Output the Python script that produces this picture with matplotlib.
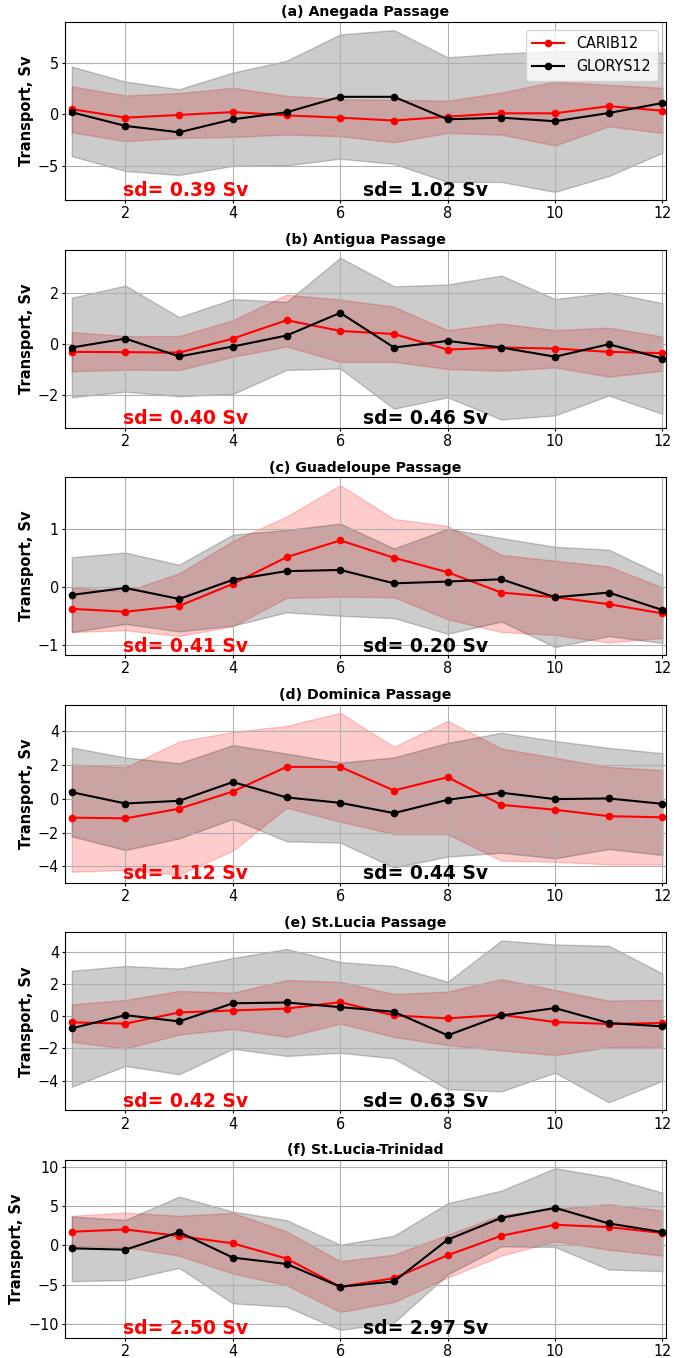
import matplotlib.pyplot as plt

# Monthly transport through the Lesser Antilles passages, CARIB12 vs GLORYS12

months = list(range(1, 13))

titles = ["(a) Anegada Passage", "(b) Antigua Passage", "(c) Guadeloupe Passage",
          "(d) Dominica Passage", "(e) St.Lucia Passage", "(f) St.Lucia-Trinidad"]

sd_carib = ["0.39", "0.40", "0.41", "1.12", "0.42", "2.50"]
sd_glorys = ["1.02", "0.46", "0.20", "0.44", "0.63", "2.97"]

yticks = [[-5, 0, 5], [-2, 0, 2], [-1, 0, 1], [-4, -2, 0, 2, 4], [-4, -2, 0, 2, 4], [-10, -5, 0, 5, 10]]
xticks = [2, 4, 6, 8, 10, 12]

# (a) Anegada
anegada_carib = [0.51, -0.32, -0.06, 0.22, -0.10, -0.32, -0.60, -0.22, 0.10, 0.10, 0.80, 0.35]
anegada_carib_hi = [2.70, 1.83, 2.06, 2.57, 1.80, 1.48, 1.41, 1.32, 2.12, 3.18, 2.86, 2.57]
anegada_carib_lo = [-1.74, -2.60, -2.28, -2.19, -1.96, -2.12, -2.70, -1.80, -1.96, -3.02, -1.16, -1.80]
anegada_glorys = [0.20, -1.12, -1.74, -0.48, 0.20, 1.70, 1.70, -0.48, -0.32, -0.67, 0.13, 1.10]
anegada_glorys_hi = [4.63, 3.18, 2.44, 4.05, 5.20, 7.75, 8.17, 5.53, 5.90, 6.14, 6.08, 5.98]
anegada_glorys_lo = [-4.05, -5.50, -5.88, -5.00, -4.95, -4.30, -4.80, -6.56, -6.56, -7.52, -5.98, -3.73]

# (b) Antigua
antigua_carib = [-0.30, -0.31, -0.33, 0.22, 0.94, 0.52, 0.40, -0.21, -0.13, -0.17, -0.30, -0.35]
antigua_carib_hi = [0.48, 0.32, 0.32, 0.94, 1.94, 1.75, 1.47, 0.55, 0.81, 0.55, 0.65, 0.30]
antigua_carib_lo = [-1.06, -1.00, -1.01, -0.49, -0.09, -0.69, -0.69, -0.97, -1.04, -0.91, -1.27, -1.04]
antigua_glorys = [-0.13, 0.22, -0.48, -0.09, 0.34, 1.23, -0.13, 0.13, -0.13, -0.49, 0.00, -0.56]
antigua_glorys_hi = [1.82, 2.30, 1.06, 1.77, 1.66, 3.39, 2.27, 2.34, 2.69, 1.77, 2.03, 1.61]
antigua_glorys_lo = [-2.08, -1.86, -2.04, -1.95, -1.01, -0.95, -2.53, -2.08, -2.95, -2.79, -2.01, -2.73]

# (c) Guadeloupe
guadeloupe_carib = [-0.37, -0.42, -0.32, 0.06, 0.52, 0.81, 0.51, 0.26, -0.09, -0.17, -0.29, -0.45]
guadeloupe_carib_hi = [0.00, -0.07, 0.24, 0.80, 1.22, 1.76, 1.18, 1.06, 0.56, 0.46, 0.36, 0.00]
guadeloupe_carib_lo = [-0.77, -0.74, -0.84, -0.67, -0.18, -0.16, -0.17, -0.55, -0.77, -0.82, -0.95, -0.87]
guadeloupe_glorys = [-0.13, -0.01, -0.20, 0.13, 0.28, 0.30, 0.07, 0.10, 0.14, -0.17, -0.09, -0.39]
guadeloupe_glorys_hi = [0.52, 0.60, 0.39, 0.91, 0.99, 1.10, 0.67, 1.01, 0.85, 0.70, 0.65, 0.21]
guadeloupe_glorys_lo = [-0.77, -0.63, -0.76, -0.66, -0.43, -0.49, -0.53, -0.80, -0.59, -1.03, -0.84, -0.96]

# (d) Dominica
dominica_carib = [-1.12, -1.16, -0.59, 0.43, 1.89, 1.89, 0.49, 1.28, -0.36, -0.65, -1.03, -1.10]
dominica_carib_hi = [2.03, 1.87, 3.39, 3.96, 4.32, 5.09, 3.08, 4.62, 2.98, 2.43, 1.89, 1.70]
dominica_carib_lo = [-4.32, -4.22, -4.50, -3.08, -0.53, -1.36, -2.09, -2.09, -3.67, -3.73, -3.89, -3.89]
dominica_glorys = [0.39, -0.28, -0.12, 0.99, 0.08, -0.24, -0.85, -0.06, 0.36, -0.02, 0.02, -0.30]
dominica_glorys_hi = [3.04, 2.45, 2.11, 3.18, 2.68, 2.15, 2.45, 3.31, 3.91, 3.43, 3.02, 2.70]
dominica_glorys_lo = [-2.23, -3.04, -2.35, -1.20, -2.52, -2.60, -4.08, -3.43, -3.20, -3.53, -2.98, -3.33]

# (e) St.Lucia
stlucia_carib = [-0.37, -0.45, 0.25, 0.37, 0.49, 0.89, 0.06, -0.12, 0.10, -0.35, -0.47, -0.41]
stlucia_carib_hi = [0.76, 1.03, 1.59, 1.48, 2.27, 2.16, 1.40, 1.55, 2.33, 1.65, 0.99, 1.03]
stlucia_carib_lo = [-1.59, -2.00, -1.13, -0.78, -1.28, -0.45, -1.28, -1.79, -2.12, -2.41, -1.92, -1.90]
stlucia_glorys = [-0.74, 0.08, -0.31, 0.82, 0.87, 0.58, 0.29, -1.18, 0.06, 0.52, -0.41, -0.62]
stlucia_glorys_hi = [2.85, 3.15, 2.99, 3.65, 4.21, 3.40, 3.15, 2.16, 4.74, 4.49, 4.41, 2.68]
stlucia_glorys_lo = [-4.39, -3.09, -3.61, -2.02, -2.47, -2.27, -2.62, -4.54, -4.68, -3.51, -5.36, -4.02]

# (f) St.Lucia-Trinidad
trinidad_carib = [1.73, 2.02, 1.18, 0.25, -1.68, -5.26, -4.17, -1.26, 1.22, 2.61, 2.32, 1.56]
trinidad_carib_hi = [3.75, 4.17, 3.75, 4.13, 1.77, -2.02, -1.18, 1.35, 3.87, 4.63, 5.22, 4.42]
trinidad_carib_lo = [-0.13, -0.21, -1.31, -3.58, -5.05, -8.46, -7.20, -4.10, -1.31, 0.50, -0.55, -1.31]
trinidad_glorys = [-0.38, -0.55, 1.68, -1.56, -2.36, -5.26, -4.59, 0.72, 3.49, 4.76, 2.78, 1.68]
trinidad_glorys_hi = [3.66, 3.24, 6.19, 4.29, 3.20, 0.08, 1.22, 5.35, 6.95, 9.81, 8.63, 6.69]
trinidad_glorys_lo = [-4.55, -4.42, -2.86, -7.37, -7.79, -10.74, -9.81, -3.70, -0.13, -0.21, -3.07, -3.28]

carib = [anegada_carib, antigua_carib, guadeloupe_carib, dominica_carib, stlucia_carib, trinidad_carib]
carib_hi = [anegada_carib_hi, antigua_carib_hi, guadeloupe_carib_hi, dominica_carib_hi, stlucia_carib_hi, trinidad_carib_hi]
carib_lo = [anegada_carib_lo, antigua_carib_lo, guadeloupe_carib_lo, dominica_carib_lo, stlucia_carib_lo, trinidad_carib_lo]
glorys = [anegada_glorys, antigua_glorys, guadeloupe_glorys, dominica_glorys, stlucia_glorys, trinidad_glorys]
glorys_hi = [anegada_glorys_hi, antigua_glorys_hi, guadeloupe_glorys_hi, dominica_glorys_hi, stlucia_glorys_hi, trinidad_glorys_hi]
glorys_lo = [anegada_glorys_lo, antigua_glorys_lo, guadeloupe_glorys_lo, dominica_glorys_lo, stlucia_glorys_lo, trinidad_glorys_lo]


def plot_passage(ax, i):
    ax.plot(months, carib[i], color="red", marker="o", markersize=4.5, lw=1.5, label="CARIB12")
    ax.fill_between(months, carib_lo[i], carib_hi[i], color="red", alpha=0.2)
    ax.plot(months, glorys[i], color="black", marker="o", markersize=4.5, lw=1.5, label="GLORYS12")
    ax.fill_between(months, glorys_lo[i], glorys_hi[i], color="black", alpha=0.2)

    ax.set_title(titles[i], fontsize=10.2, fontweight="bold", pad=4)
    ax.set_ylabel("Transport, Sv", fontsize=10.5, fontweight="bold", labelpad=3)
    ax.set_xlim(0.88, 12.06)
    ax.set_xticks(xticks)
    ax.set_yticks(yticks[i])
    ax.tick_params(labelsize=11.5, length=2.5, pad=2)
    for lbl in ax.get_xticklabels() + ax.get_yticklabels():
        lbl.set_fontstretch("condensed")
    ax.grid(True)

    # standard deviation of each model at the bottom of the panel
    trans = ax.get_xaxis_transform()
    ax.text(1.95, 0.02, "sd= " + sd_carib[i] + " Sv", color="red", fontsize=13.5,
            fontweight="bold", transform=trans, va="baseline")
    ax.text(6.43, 0.02, "sd= " + sd_glorys[i] + " Sv", color="black", fontsize=13.5,
            fontweight="bold", transform=trans, va="baseline")


fig = plt.figure(figsize=(6.74, 13.58), dpi=100)
H = 1358.0
left = 65.3 / 674
width = (665.7 - 65.3) / 674
height = 178 / H

for i in range(6):
    top = 22 + 227.6 * i
    ax = fig.add_axes([left, 1 - (top + 178) / H, width, height])
    plot_passage(ax, i)
    if i == 0:
        leg = ax.legend(loc="upper right", fontsize=11.5)
        for t in leg.get_texts():
            t.set_fontstretch("condensed")

fig.savefig("out.png", dpi=100)
